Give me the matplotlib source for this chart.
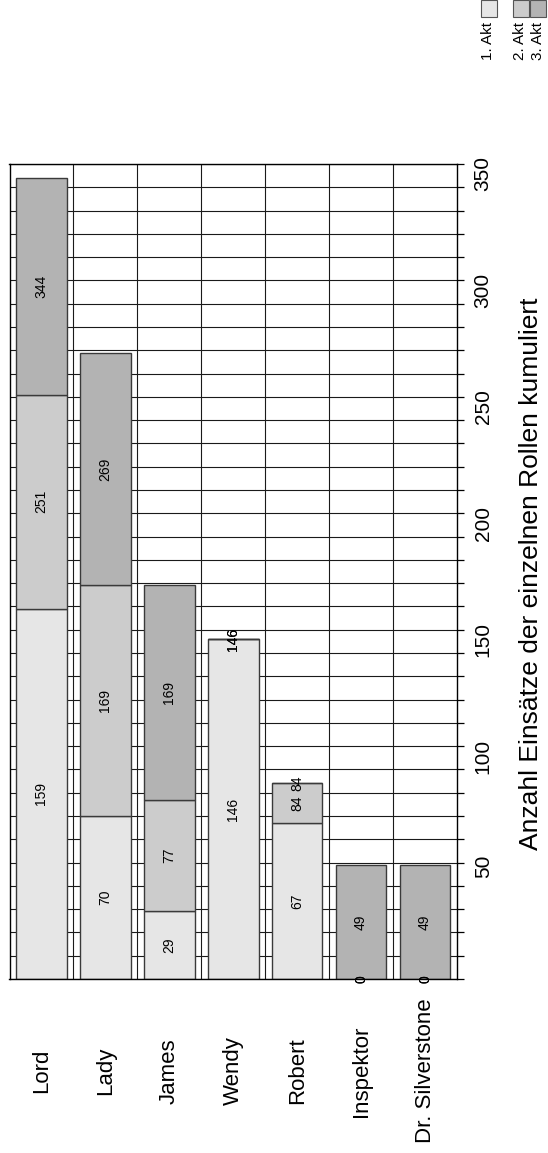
import numpy as np
import matplotlib
matplotlib.use('Agg')
import matplotlib.pyplot as plt
from matplotlib.patches import Rectangle
from matplotlib.ticker import MultipleLocator
from matplotlib.transforms import blended_transform_factory

plt.rcParams['font.family'] = ['Liberation Sans', 'DejaVu Sans']

# Rollen und kumulierte Einsaetze je Akt
roles = ['Lord', 'Lady', 'James', 'Wendy', 'Robert', 'Inspektor', 'Dr. Silverstone']
cum_akt1 = [159, 70, 29, 146, 67, 0, 0]
cum_akt2 = [251, 169, 77, 146, 84, 0, 0]
cum_akt3 = [344, 269, 169, 146, 84, 49, 49]
acts = ['1. Akt', '2. Akt', '3. Akt']
colors = ['#e6e6e6', '#cccccc', '#b3b3b3']

W, H = 548, 1153
fig = plt.figure(figsize=(W / 100, H / 100), dpi=100)
ax = fig.add_axes([9.5 / W, (H - 979) / H, (457 - 9.5) / W, (979 - 164) / H])

x = np.arange(len(roles))
cums = [np.array(cum_akt1), np.array(cum_akt2), np.array(cum_akt3)]
bottom = np.zeros(len(roles))
for i, cum in enumerate(cums):
    heights = cum - bottom
    bars = ax.bar(x, heights, width=0.79, bottom=bottom, color=colors[i],
                  edgecolor='#3a3a3a', linewidth=1.0, zorder=2)
    ax.bar_label(bars, labels=[str(v) for v in cum], label_type='center',
                 rotation=90, fontsize=10, zorder=3)
    bottom = cum.astype(float)

# axes and grid
ax.set_xlim(-0.5, len(roles) - 0.5)
ax.set_ylim(0, 350)
ax.yaxis.set_major_locator(MultipleLocator(50))
ax.yaxis.set_minor_locator(MultipleLocator(10))
ax.yaxis.tick_right()
ax.set_yticks([50, 100, 150, 200, 250, 300, 350])
ax.tick_params(axis='y', which='both', direction='out', length=5, width=0.9,
               labelsize=15, labelrotation=90, pad=7)
ax.set_xticks(x)
ax.set_xticklabels([])
ax.set_xticks(x[:-1] + 0.5, minor=True)
ax.tick_params(axis='x', which='both', length=0)
ax.set_axisbelow(True)
ax.grid(True, axis='y', which='both', color='#1a1a1a', linewidth=0.8)
ax.grid(True, axis='x', which='minor', color='#1a1a1a', linewidth=0.8)
for spine in ax.spines.values():
    spine.set_linewidth(1.0)
    spine.set_color('black')

# category labels under the bars
trans = blended_transform_factory(ax.transData, ax.transAxes)
for xi, name in zip(x, roles):
    ax.text(xi, -(1071 - 979) / (979 - 164), name, transform=trans, rotation=90,
            ha='center', va='center', fontsize=16)

# value axis label on the right
ax.text((531 - 9.5) / (457 - 9.5), 0.497, 'Anzahl Einsätze der einzelnen Rollen kumuliert',
        transform=ax.transAxes, rotation=90, ha='center', va='center', fontsize=19)

# legend in the top right corner
sq_x = [481, 513, 530]
for sx, name, c in zip(sq_x, acts, colors):
    fig.patches.append(Rectangle((sx / W, (H - 17) / H), 16 / W, 17 / H,
                                 transform=fig.transFigure, facecolor=c,
                                 edgecolor='#555555', linewidth=0.8))
    fig.text((sx + 7.5) / W, (H - 22) / H, name, rotation=90, ha='center', va='top',
             fontsize=11)

fig.savefig('out.png', dpi=100)
